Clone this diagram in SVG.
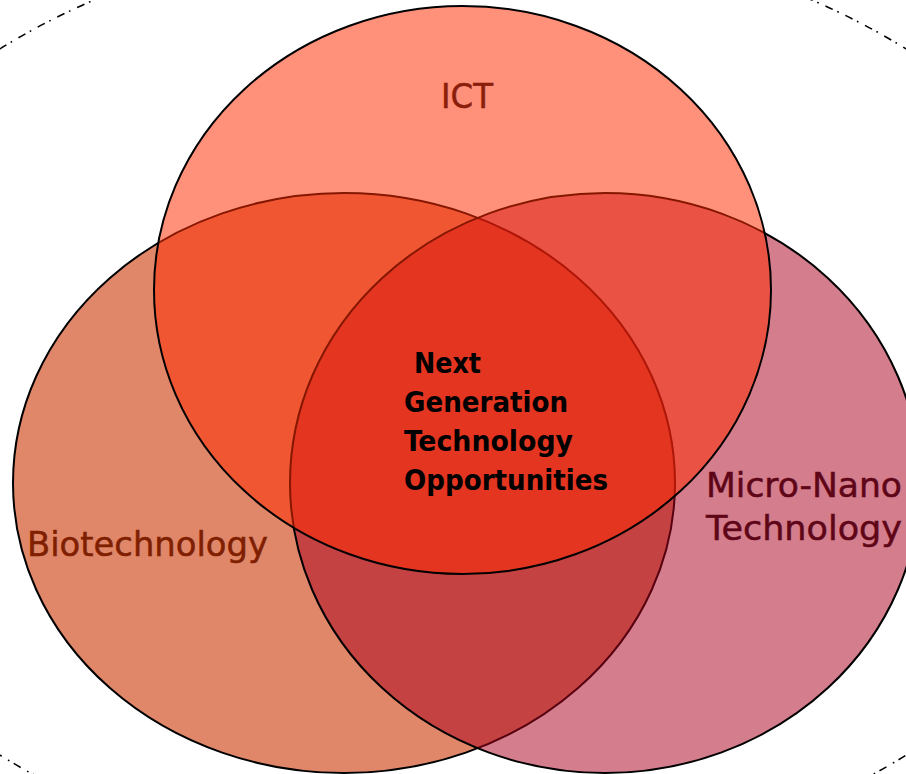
<svg xmlns="http://www.w3.org/2000/svg" width="906" height="774" viewBox="0 0 906 774">
  <style>
    .ring { stroke: #000; stroke-width: 2; }
    .label { font-family: "DejaVu Sans", "Liberation Sans", sans-serif; font-size: 34px; stroke-width: 0.5; }
    .core { font-family: "DejaVu Sans Condensed", "DejaVu Sans", "Liberation Sans", sans-serif; font-weight: bold; font-size: 29px; fill: #000; }
  </style>
  <rect width="906" height="774" fill="#fff"/>

  <!-- outer dash-dot boundary -->
  <ellipse cx="453" cy="402" rx="681" ry="473" fill="none" stroke="#000" stroke-width="1.6" stroke-dasharray="8 5 1.6 7.4"/>

  <g id="biotechnology">
    <ellipse class="ring" cx="344" cy="483" rx="331" ry="290" fill="#E0876A"/>
    <text class="label" x="27" y="556" fill="#7F1F00" stroke="#7F1F00" textLength="241" lengthAdjust="spacingAndGlyphs">Biotechnology</text>
  </g>

  <g id="micro-nano">
    <ellipse class="ring" cx="605" cy="483" rx="315" ry="290" fill="rgb(170,0,30)" fill-opacity="0.51"/>
    <text class="label" fill="#5E0618" stroke="#5E0618">
      <tspan x="706" y="497" textLength="196" lengthAdjust="spacingAndGlyphs">Micro-Nano</tspan>
      <tspan x="706" y="540" textLength="196" lengthAdjust="spacingAndGlyphs">Technology</tspan>
    </text>
  </g>

  <g id="ict">
    <ellipse class="ring" cx="462.5" cy="290" rx="308.5" ry="284" fill="rgb(255,42,0)" fill-opacity="0.52"/>
    <text class="label" x="441" y="108" fill="#8A1E0A" stroke="#8A1E0A" textLength="52" lengthAdjust="spacingAndGlyphs">ICT</text>
  </g>

  <g id="next-generation">
    <text class="core">
      <tspan x="414" y="373" textLength="67" lengthAdjust="spacingAndGlyphs">Next</tspan>
      <tspan x="404" y="412" textLength="164" lengthAdjust="spacingAndGlyphs">Generation</tspan>
      <tspan x="404" y="451" textLength="169" lengthAdjust="spacingAndGlyphs">Technology</tspan>
      <tspan x="404" y="490" textLength="204" lengthAdjust="spacingAndGlyphs">Opportunities</tspan>
    </text>
  </g>
</svg>
